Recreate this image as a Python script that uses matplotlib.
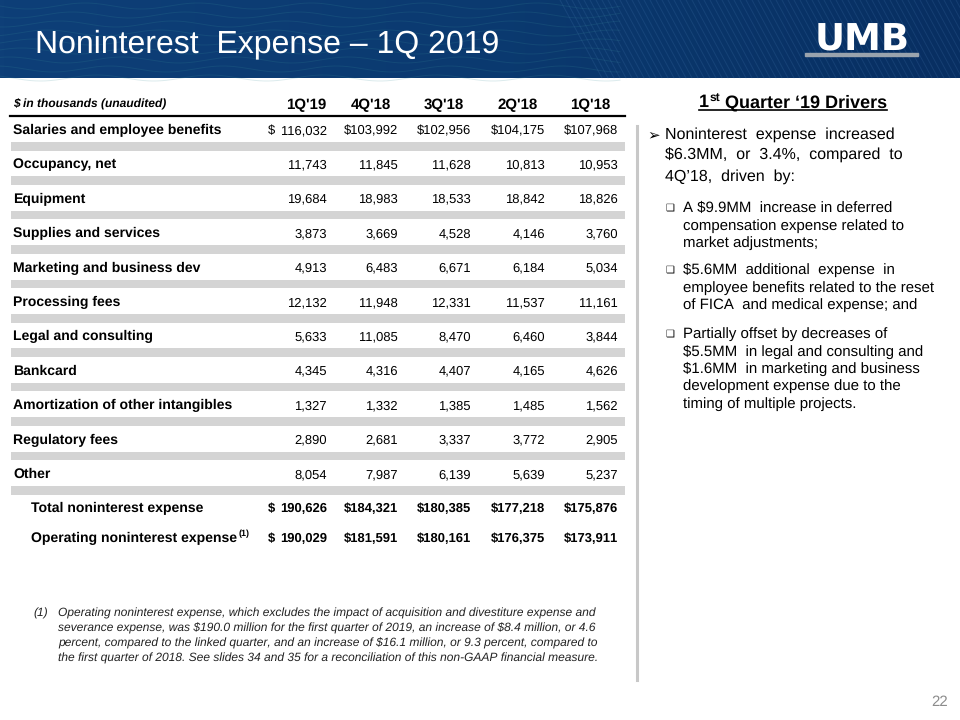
import numpy as np
import matplotlib
matplotlib.use("Agg")
import matplotlib.pyplot as plt
from matplotlib.patches import Rectangle
from matplotlib.colors import LinearSegmentedColormap

plt.rcParams['font.family'] = ['Liberation Sans', 'DejaVu Sans']
plt.rcParams['text.parse_math'] = False
plt.rcParams['text.hinting'] = 'none'
plt.rcParams['text.hinting_factor'] = 1
FONT = ['Liberation Sans', 'DejaVu Sans']

# ---------------- data ----------------
title = "Noninterest  Expense \u2013 1Q 2019"
unit_label = "$ in thousands (unaudited)"
quarters = ["1Q'19", "4Q'18", "3Q'18", "2Q'18", "1Q'18"]
categories = ["Salaries and employee benefits", "Occupancy, net", "Equipment",
              "Supplies and services", "Marketing and business dev", "Processing fees",
              "Legal and consulting", "Bankcard", "Amortization of other intangibles",
              "Regulatory fees", "Other"]
q1_19 = [116032, 11743, 19684, 3873, 4913, 12132, 5633, 4345, 1327, 2890, 8054]
q4_18 = [103992, 11845, 18983, 3669, 6483, 11948, 11085, 4316, 1332, 2681, 7987]
q3_18 = [102956, 11628, 18533, 4528, 6671, 12331, 8470, 4407, 1385, 3337, 6139]
q2_18 = [104175, 10813, 18842, 4146, 6184, 11537, 6460, 4165, 1485, 3772, 5639]
q1_18 = [107968, 10953, 18826, 3760, 5034, 11161, 3844, 4626, 1562, 2905, 5237]
total_label = "Total noninterest expense"
total_vals = [190626, 184321, 180385, 177218, 175876]
oper_label = "Operating noninterest expense"
oper_vals = [190029, 181591, 180161, 176375, 173911]

drivers_title = ["1", "st", " Quarter \u201819 Drivers"]
main_bullet_lines = ["Noninterest  expense  increased", "$6.3MM,  or  3.4%,  compared  to",
                     "4Q\u201918,  driven  by:"]
sub_bullets = [
    ["A $9.9MM  increase in deferred", "compensation expense related to", "market adjustments;"],
    ["$5.6MM  additional  expense  in", "employee benefits related to the reset",
     "of FICA  and medical expense; and"],
    ["Partially offset by decreases of", "$5.5MM  in legal and consulting and",
     "$1.6MM  in marketing and business", "development expense due to the",
     "timing of multiple projects."],
]
footnote_lines = [
    "Operating noninterest expense, which excludes the impact of acquisition and divestiture expense and",
    "severance expense, was $190.0 million for the first quarter of 2019, an increase of $8.4 million, or 4.6",
    "percent, compared to the linked quarter, and an increase of $16.1 million, or 9.3 percent, compared to",
    "the first quarter of 2018. See slides 34 and 35 for a reconciliation of this non-GAAP financial measure.",
]
page_number = "22"

# ---------------- figure ----------------
fig = plt.figure(figsize=(9.6, 7.2), dpi=100)
ax = fig.add_axes([0, 0, 1, 1])
ax.set_xlim(0, 960)
ax.set_ylim(720, 0)
ax.axis('off')
R = fig.canvas.get_renderer()


def T(x, y, s, **kw):
    kw.setdefault('family', FONT)
    kw.setdefault('va', 'baseline')
    return ax.text(x, y, s, parse_math=False, **kw)


def width(t):
    return t.get_window_extent(R).width

# ---------------- banner ----------------
cmap = LinearSegmentedColormap.from_list("ban", ["#0e3f78", "#0b3a70", "#082f62"])
grad = np.linspace(0, 1, 256).reshape(1, -1)
ax.imshow(grad, cmap=cmap, extent=[0, 960, 78, 0], aspect='auto', zorder=0)
xs = np.linspace(0, 620, 400)
for k in range(9):
    yy = 6 + k * 9 + 3.0 * np.sin(xs / 18.0 + k * 0.7)
    ax.plot(xs, yy, color="#3a8f9a", alpha=0.18, lw=0.7, zorder=1)
for x0 in range(560, 980, 6):
    ax.plot([x0, x0 + 42], [0, 78], color="#5b8fc8", alpha=0.16, lw=0.7, zorder=1)
ax.set_xlim(0, 960)
ax.set_ylim(720, 0)

T(35, 52, title, color="white", fontsize=23.3, zorder=3)

# logo
T(862, 50, "UMB", color="white", fontsize=26.5, fontweight='heavy',
  family=['DejaVu Sans'], ha='center', zorder=3)
ax.add_patch(Rectangle((805, 53), 113, 3, color="#9aa3ad", zorder=3))

# ---------------- table ----------------
col_right = [327, 398, 471, 545, 618]
hdr_right = [326, 391, 464, 538, 610]
dollar_x = 268
series = [q1_19, q4_18, q3_18, q2_18, q1_18]

T(13, 108, unit_label, fontsize=8.6, fontweight='bold', style='italic')
for q, xr in zip(quarters, hdr_right):
    T(xr, 109, q, fontsize=10.5, fontweight='bold', ha='right')
ax.plot([10, 625], [116, 116], color='black', lw=1.6)

row0 = 129
step = 34.4
for i, cat in enumerate(categories):
    yc = row0 + i * step
    yb = yc + 5
    T(13, yb, cat, fontsize=9.8, fontweight='bold')
    for j, (s, xr) in enumerate(zip(series, col_right)):
        v = s[i]
        if i == 0:
            if j == 0:
                T(dollar_x, yb, "$", fontsize=9.5)
                txt = f"{v:,}"
            else:
                txt = f"${v:,}"
        else:
            txt = f"{v:,}"
        T(xr, yb, txt, fontsize=9.5, ha='right')
    ax.add_patch(Rectangle((11, yc + 13), 614, 8.5, color="#d4d4d4", lw=0, zorder=0.5))

for yc, lab, vals in [(507, total_label, total_vals), (537, oper_label, oper_vals)]:
    yb = yc + 5
    t = T(31, yb, lab, fontsize=9.8, fontweight='bold')
    if lab == oper_label:
        T(31 + width(t) + 1.5, yb - 6, "(1)", fontsize=6.5, fontweight='bold')
    T(dollar_x, yb, "$", fontsize=9.5, fontweight='bold')
    for j, (v, xr) in enumerate(zip(vals, col_right)):
        txt = f"{v:,}" if j == 0 else f"${v:,}"
        T(xr, yb, txt, fontsize=9.5, fontweight='bold', ha='right')

# ---------------- right panel ----------------
ax.plot([637, 637], [126, 680], color="#c8c8c8", lw=2.2)

parts = []
sizes = [13, 8.5, 13]
offs = [0, -6, 0]
for p, sz in zip(drivers_title, sizes):
    parts.append(T(0, 107, p, fontsize=sz, fontweight='bold'))
ws = [width(p) for p in parts]
xstart = 793 - sum(ws) / 2
x = xstart
for p, w, o in zip(parts, ws, offs):
    p.set_x(x)
    p.set_y(107 + o)
    x += w
ax.plot([xstart, x], [109.5, 109.5], color='black', lw=1.2)

T(647, 139, "\u27a2", fontsize=10.5, family=['DejaVu Sans'])
for k, line in enumerate(main_bullet_lines):
    T(665, 139 + k * 21, line, fontsize=11.7)

sub_start = [212, 274, 338]
for lines, y0 in zip(sub_bullets, sub_start):
    T(665, y0 - 1, "\u2751", fontsize=7, family=['DejaVu Sans'])
    for k, line in enumerate(lines):
        T(683, y0 + k * 17.4, line, fontsize=10.5)

# ---------------- footnote ----------------
T(33, 617, "(1)", fontsize=8.8, style='italic', color="#222222")
for k, line in enumerate(footnote_lines):
    T(58, 617 + k * 14.9, line, fontsize=8.8, style='italic', color="#222222")

T(948, 706, page_number, fontsize=11, color="#8c8c8c", ha='right')

fig.savefig("out.png", dpi=100)
